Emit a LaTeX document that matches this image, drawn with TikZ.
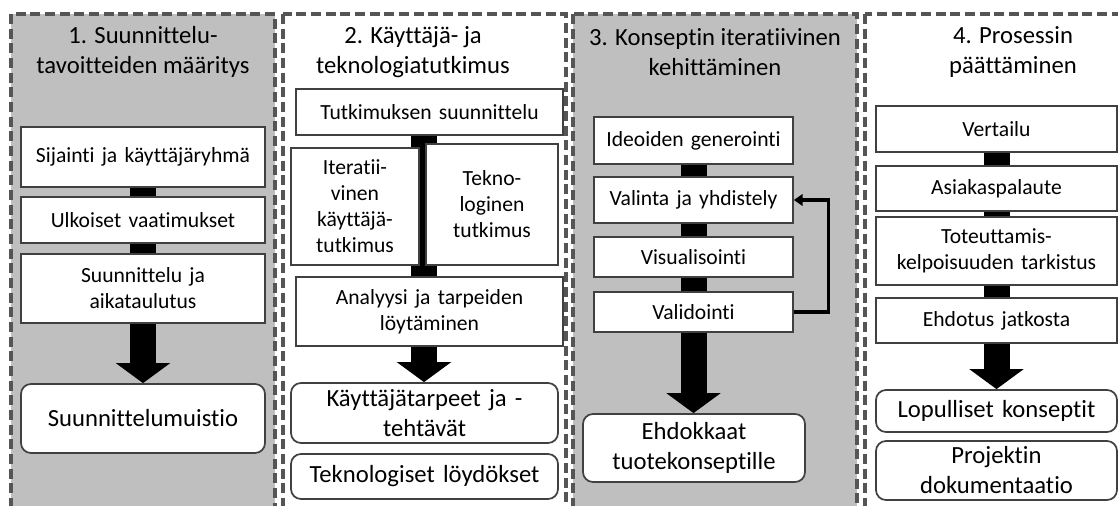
\documentclass[tikz,border=0pt]{standalone}
\usepackage{fontspec}
\setmainfont[Ligatures=NoCommon]{Carlito}
\usetikzlibrary{arrows.meta}
\definecolor{panelgray}{HTML}{BFBFBF}
\definecolor{dashgray}{HTML}{555555}
\definecolor{boxline}{HTML}{404040}
\begin{document}
\begin{tikzpicture}
	[x=0.75pt,y=-0.75pt,
	panel/.style={draw=dashgray,line width=2.6pt,dash pattern=on 7.5pt off 3.5pt},
	title/.style={align=center,inner sep=0pt,font=\fontsize{18.5}{22.5}\selectfont},
	box/.style={draw=boxline,fill=white,line width=1.3pt,inner sep=0pt,align=center,font=\fontsize{16.2}{19.5}\selectfont},
	result/.style={box,rounded corners=7.5pt,font=\fontsize{18.5}{22.5}\selectfont},
	link/.style={line width=19.5pt},
	flow/.style={line width=19.5pt,-{Triangle[width=40pt,length=15pt]}},
	back/.style={line width=2.4pt,-{Triangle[width=8.5pt,length=6.5pt]}}]
    \useasboundingbox (0,0) rectangle (1118,506);
    \clip (0,0) rectangle (1118,506);
    % panels
    \draw[panel,fill=panelgray] (11,14) rectangle (275,520);
    \draw[panel] (283,14) rectangle (566,520);
    \draw[panel,fill=panelgray] (573,14) rectangle (857,520);
    \draw[panel] (865,14) rectangle (1140,520);
    \node[title] (t1) at (143,52) {1. Suunnittelu-\\tavoitteiden määritys};
    \node[title] (t2) at (413,52) {2. Käyttäjä- ja\\teknologiatutkimus};
    \node[title] (t3) at (715,52) {3. Konseptin iteratiivinen\\kehittäminen};
    \node[title] (t4) at (1013,52) {4. Prosessin\\päättäminen};
    % 1
    \node[box,text width=183pt,minimum height=45pt] (sijainti) at (143,157) {Sijainti ja käyttäjäryhmä};
    \node[box,text width=183pt,minimum height=34.5pt] (ulkoiset) at (143,220) {Ulkoiset vaatimukset};
    \node[box,text width=183pt,minimum height=51.75pt] (aikataulu) at (143,288.5) {Suunnittelu ja\\aikataulutus};
    \node[result,text width=183pt,minimum height=51.75pt] (muistio) at (143,418.5) {Suunnittelumuistio};
    \draw[link] (sijainti) -- (ulkoiset);
    \draw[link] (ulkoiset) -- (aikataulu);
    \draw[flow] (aikataulu) -- (muistio);
    % 2
    \coordinate (split) at (424,0);
    \node[box,text width=200.25pt,minimum height=34.5pt] (tutkimus) at (429.5,112) {Tutkimuksen suunnittelu};
    \node[box,text width=200.25pt,minimum height=51.75pt] (analyysi) at (429.5,311.5) {Analyysi ja tarpeiden\\löytäminen};
    \draw[link] (tutkimus.south -| split) -- (analyysi.north -| split);
    \node[box,text width=96pt,minimum height=87.75pt] (kayttaja) at (355,206.5) {Iteratii-\\vinen\\käyttäjä-\\tutkimus};
    \node[box,text width=99pt,minimum height=90.75pt] (tekno) at (492,204.5) {Tekno-\\loginen\\tutkimus};
    \node[result,text width=200.25pt,minimum height=45pt] (tarpeet) at (424.5,413) {Käyttäjätarpeet ja -\\tehtävät};
    \node[result,text width=200.25pt,minimum height=33.75pt] (loydokset) at (424.5,476.5) {Teknologiset löydökset};
    \draw[flow] (analyysi.south -| split) -- (tarpeet.north -| split);
    % 3
    \node[box,text width=149.25pt,minimum height=35.25pt] (ideointi) at (693.5,140.5) {Ideoiden generointi};
    \node[box,text width=149.25pt,minimum height=34.5pt] (valinta) at (693.5,200) {Valinta ja yhdistely};
    \node[box,text width=149.25pt,minimum height=30pt] (visu) at (693.5,257) {Visualisointi};
    \node[box,text width=149.25pt,minimum height=30pt] (validointi) at (693.5,312) {Validointi};
    \node[result,text width=166.5pt,minimum height=51pt] (ehdokkaat) at (694,448) {Ehdokkaat\\tuotekonseptille};
    \draw[link] (ideointi) -- (valinta);
    \draw[link] (valinta) -- (visu);
    \draw[link] (visu) -- (validointi);
    \draw[flow] (validointi.south) -- (validointi.south |- ehdokkaat.north);
    \draw[back] (validointi.east) -- ++(35,0) |- (valinta.east);
    % 4
    \node[box,text width=180.75pt,minimum height=34.5pt] (vertailu) at (996.5,129) {Vertailu};
    \node[box,text width=180.75pt,minimum height=33.75pt] (palaute) at (996.5,188.5) {Asiakaspalaute};
    \node[box,text width=180.75pt,minimum height=51pt] (tarkistus) at (996.5,251) {Toteuttamis-\\kelpoisuuden tarkistus};
    \node[box,text width=180.75pt,minimum height=33.75pt] (ehdotus) at (996.5,320.5) {Ehdotus jatkosta};
    \node[result,text width=180.75pt,minimum height=31.5pt] (konseptit) at (996.5,411) {Lopulliset konseptit};
    \node[result,text width=180.75pt,minimum height=44.25pt] (dokumentit) at (996.5,470.5) {Projektin\\dokumentaatio};
    \draw[link] (vertailu) -- (palaute);
    \draw[link] (palaute) -- (tarkistus);
    \draw[link] (tarkistus) -- (ehdotus);
    \draw[flow] (ehdotus) -- (konseptit);
\end{tikzpicture}
\end{document}
